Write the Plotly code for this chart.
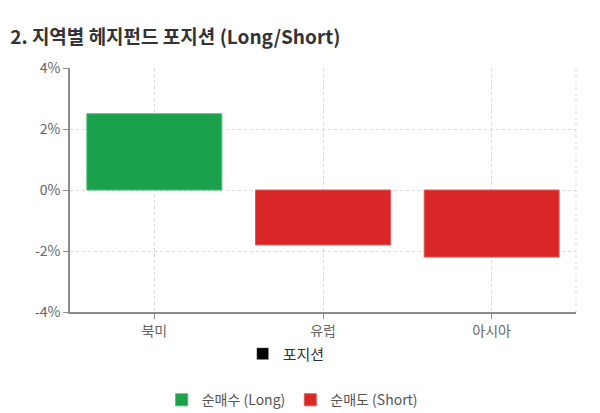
import plotly.graph_objects as go

regions = ['북미', '유럽', '아시아']
positions = [2.5, -1.8, -2.2]
long_name = '순매수 (Long)'
short_name = '순매도 (Short)'
y_ticks = [-4, -2, 0, 2, 4]
y_tick_text = ['-4%', '-2%', '0%', '2%', '4%']
green = '#1ba14b'
red = '#d92626'

font_kr = 'Noto Sans CJK KR'

long_x = [r for r, v in zip(regions, positions) if v >= 0]
long_y = [v for v in positions if v >= 0]
short_x = [r for r, v in zip(regions, positions) if v < 0]
short_y = [v for v in positions if v < 0]

fig = go.Figure()
fig.add_trace(go.Bar(x=long_x, y=long_y, name=long_name, width=0.8,
                     marker=dict(color=green, line=dict(color='#4cb871', width=1)),
                     legend='legend'))
fig.add_trace(go.Bar(x=short_x, y=short_y, name=short_name, width=0.8,
                     marker=dict(color=red, line=dict(color='#e05a5a', width=1)),
                     legend='legend'))
# legend-only entry for the series name
fig.add_trace(go.Bar(x=[None], y=[None], name='포지션', marker_color='black',
                     legend='legend2', showlegend=True))

fig.update_layout(
    width=600, height=413,
    margin=dict(l=70, r=24, t=68, b=101, autoexpand=False),
    plot_bgcolor='white', paper_bgcolor='white',
    barmode='overlay',
    font=dict(family=font_kr, color='#666666', size=13),
    title=dict(text='<b>2. 지역별 헤지펀드 포지션 (Long/Short)</b>',
               x=0.017, xanchor='left', y=0.91, yanchor='middle',
               font=dict(size=19, color='#333333', family=font_kr)),
    xaxis=dict(categoryorder='array', categoryarray=regions,
               range=[-0.5, 2.5],
               showline=True, linecolor='#8c8c8c', linewidth=1.5,
               showgrid=True, gridcolor='#d9d9d9', griddash='dot', gridwidth=1,
               ticks='outside', ticklen=5, tickcolor='#8c8c8c',
               tickfont=dict(size=14, color='#666666')),
    yaxis=dict(range=[-4, 4], tickvals=y_ticks, ticktext=y_tick_text,
               showline=True, linecolor='#8c8c8c', linewidth=1.5,
               showgrid=True, gridcolor='#d9d9d9', griddash='dot', gridwidth=1,
               zeroline=False,
               ticks='outside', ticklen=5, tickcolor='#8c8c8c',
               tickfont=dict(size=14, color='#666666')),
    legend=dict(orientation='h', xref='container', yref='container',
                x=0.487, xanchor='center', y=0.031, yanchor='middle',
                font=dict(size=14, color='#555555'), itemwidth=30),
    legend2=dict(orientation='h', xref='container', yref='container',
                 x=0.477, xanchor='center', y=0.143, yanchor='middle',
                 font=dict(size=15, color='#333333'), itemwidth=30),
)

# dashed frame line on the right edge
fig.add_shape(type='line', xref='paper', yref='paper', x0=1, x1=1, y0=0, y1=1,
              line=dict(color='#d9d9d9', width=1, dash='dot'))

fig.write_html('out.html', config={'displayModeBar': False},
               post_script="document.body.style.margin='0';")
